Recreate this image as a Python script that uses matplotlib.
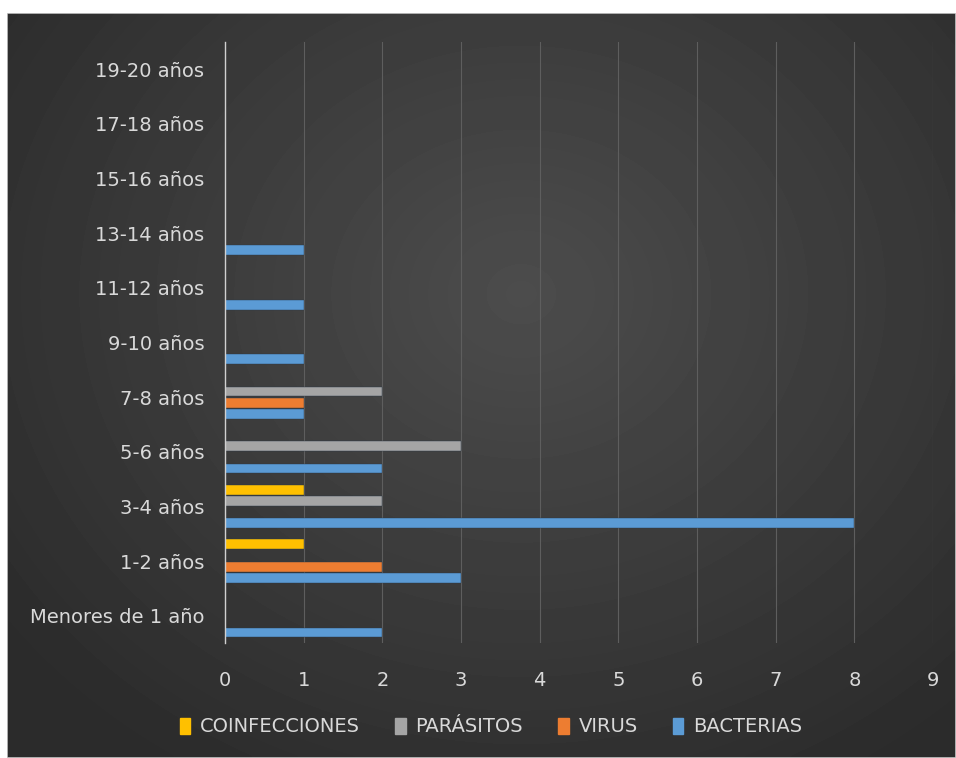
import numpy as np
import matplotlib.pyplot as plt
from matplotlib.patches import Patch

grupos = ['Menores de 1 año', '1-2 años', '3-4 años', '5-6 años', '7-8 años',
          '9-10 años', '11-12 años', '13-14 años', '15-16 años', '17-18 años',
          '19-20 años']
bacterias = [2, 3, 8, 2, 1, 1, 1, 1, 0, 0, 0]
virus = [0, 2, 0, 0, 1, 0, 0, 0, 0, 0, 0]
parasitos = [0, 0, 2, 3, 2, 0, 0, 0, 0, 0, 0]
coinfecciones = [0, 1, 1, 0, 0, 0, 0, 0, 0, 0, 0]

series = [('BACTERIAS', bacterias, '#5B9BD5'),
          ('VIRUS', virus, '#ED7D31'),
          ('PARÁSITOS', parasitos, '#A5A5A5'),
          ('COINFECCIONES', coinfecciones, '#FFC000')]

txt = '#d9d9d9'
fig = plt.figure(figsize=(9.56, 7.58), dpi=100, facecolor='white')

# fondo gris oscuro con degradado radial
bg = fig.add_axes([7 / 956, 0, 949 / 956, 745 / 758])
yy, xx = np.mgrid[0:200, 0:250]
r = np.sqrt(((xx - 135) / 170.0) ** 2 + ((yy - 75) / 150.0) ** 2)
r = np.clip(r, 0, 1)
grad = 0.30 - 0.13 * r
bg.imshow(grad, cmap='gray', vmin=0, vmax=1, aspect='auto', interpolation='bicubic')
bg.set_axis_off()
bg.add_patch(plt.Rectangle((0, 0), 1, 1, transform=bg.transAxes, fill=False,
                           edgecolor='#c8c8c8', lw=1.2))

ax = fig.add_axes([225 / 956, 1 - 643 / 758, 708 / 956, 601 / 758])
ax.patch.set_alpha(0)

y = np.arange(len(grupos))
paso = 0.205
alto = 0.18
for i, (nombre, vals, color) in enumerate(series):
    ax.barh(y + (i - 1.5) * paso, vals, height=alto, color=color, label=nombre,
            zorder=3, edgecolor='#2a3a4a', linewidth=0.3)

ax.set_xlim(0, 9)
ax.set_ylim(-0.5, len(grupos) - 0.5)
ax.set_xticks(range(10))
ax.set_yticks(y)
ax.set_yticklabels(grupos)
ax.tick_params(axis='both', length=0, colors=txt, labelsize=14)
ax.tick_params(axis='y', pad=15)
ax.tick_params(axis='x', pad=20)
ax.grid(axis='x', color='#5e5e5e', lw=0.8, zorder=0)
for s in ['top', 'right', 'bottom']:
    ax.spines[s].set_visible(False)
ax.spines['left'].set_color('#d0d0d0')
ax.spines['left'].set_linewidth(1)
ax.spines['left'].set_zorder(4)

orden = [3, 2, 1, 0]
handles = [Patch(color=series[k][2], label=series[k][0]) for k in orden]
leg = fig.legend(handles=handles, loc='center', bbox_to_anchor=(491 / 956, 1 - 727 / 758),
                 ncol=4, frameon=False, fontsize=14, handlelength=0.55,
                 handleheight=0.9, handletextpad=0.5, columnspacing=1.8)
for t in leg.get_texts():
    t.set_color(txt)

fig.savefig('out.png', dpi=100, facecolor='white')
